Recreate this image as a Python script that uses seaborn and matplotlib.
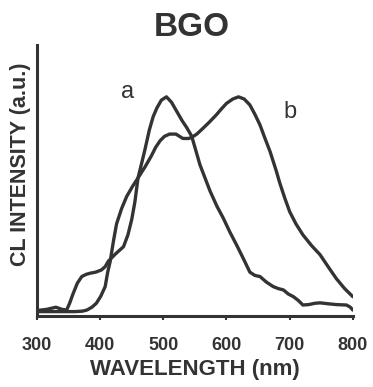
#CL spectra of BGO, curves a and b
import numpy as np
import pandas as pd
import matplotlib
matplotlib.use("Agg")
import matplotlib.pyplot as plt
import seaborn as sns

#Data
wl_a = [300, 315, 330, 340, 347, 352, 357, 364, 371, 378, 384, 393, 402, 408, 413,
        425, 437, 444, 450, 455, 460, 466, 471, 478, 484, 490, 497, 505, 513, 521,
        530, 537, 545, 552, 558, 566, 574, 585, 595, 605, 616, 627, 637, 645, 653,
        663, 674, 682, 690, 698, 706, 714, 721, 730, 740, 748, 760, 774, 790, 796, 800]
int_a = [0.025, 0.03, 0.04, 0.03, 0.027, 0.06, 0.10, 0.15, 0.18, 0.19, 0.195, 0.2, 0.21, 0.225, 0.25,
         0.285, 0.316, 0.37, 0.44, 0.52, 0.63, 0.7, 0.76, 0.85, 0.91, 0.95, 0.985, 1.0, 0.975, 0.935,
         0.89, 0.86, 0.82, 0.75, 0.69, 0.63, 0.57, 0.5, 0.446, 0.385, 0.324, 0.26, 0.2, 0.185, 0.18,
         0.155, 0.134, 0.125, 0.119, 0.1, 0.088, 0.07, 0.05, 0.052, 0.058, 0.06, 0.056, 0.052, 0.05, 0.04, 0.027]

wl_b = [300, 330, 360, 372, 379, 387, 394, 401, 408, 412, 416, 421, 426, 434, 442,
        451, 460, 471, 481, 488, 495, 502, 510, 520, 531, 540, 545, 553, 563, 573,
        584, 592, 600, 610, 619, 628, 637, 645, 653, 661, 669, 679, 684, 692, 700,
        710, 721, 735, 748, 762, 774, 787, 800]
int_b = [0.02, 0.02, 0.02, 0.022, 0.027, 0.04, 0.058, 0.09, 0.134, 0.2, 0.25, 0.34, 0.42, 0.49, 0.545,
         0.59, 0.63, 0.68, 0.73, 0.77, 0.8, 0.82, 0.83, 0.83, 0.81, 0.81, 0.815, 0.83, 0.857, 0.885,
         0.918, 0.945, 0.97, 0.99, 1.0, 0.99, 0.963, 0.92, 0.872, 0.81, 0.75, 0.66, 0.61, 0.54, 0.476,
         0.42, 0.37, 0.32, 0.28, 0.22, 0.17, 0.125, 0.088]

x_ticks = [300, 400, 500, 600, 700, 800]

df = pd.concat([
    pd.DataFrame({'wl': wl_a, 'I': int_a, 'curve': 'a'}),
    pd.DataFrame({'wl': wl_b, 'I': int_b, 'curve': 'b'}),
])

sns.set_style("white")
plt.rcParams['font.family'] = ['Liberation Sans', 'DejaVu Sans']

fig = plt.figure(figsize=(3.73, 3.87), dpi=100)
ax = fig.add_axes([0.099, 0.1835, 0.847, 0.7005])

sns.lineplot(data=df, x='wl', y='I', units='curve', estimator=None, sort=False,
             color='#333333', lw=2.4, ax=ax,
             solid_joinstyle='round', solid_capstyle='round')

ax.set_xlim(300, 800)
ax.set_ylim(0, 1.237)
ax.set_xticks(x_ticks)
ax.set_xticklabels([str(t) for t in x_ticks], fontsize=13, fontweight='bold', color='#333')
ax.set_yticks([])
ax.tick_params(axis='x', direction='out', length=3, width=1.5, pad=12, bottom=True, color='#333')
sns.despine(ax=ax)
for s in ['left', 'bottom']:
    ax.spines[s].set_linewidth(2.2)
    ax.spines[s].set_color('#333')

ax.set_xlabel('WAVELENGTH (nm)', fontsize=16, fontweight='bold', color='#333', labelpad=4)
ax.set_ylabel('CL INTENSITY (a.u.)', fontsize=15.5, fontweight='bold', color='#333')
ax.yaxis.set_label_coords(-0.02, 0.56)
fig.text(0.515, 1 - 27 / 387, 'BGO', fontsize=24, fontweight='bold', color='#333',
         ha='center', va='center')

ax.text(444, 1.02, 'a', fontsize=17, color='#333', ha='center', va='center')
ax.text(701, 0.93, 'b', fontsize=17, color='#333', ha='center', va='center')

fig.savefig('out.png', dpi=100)
